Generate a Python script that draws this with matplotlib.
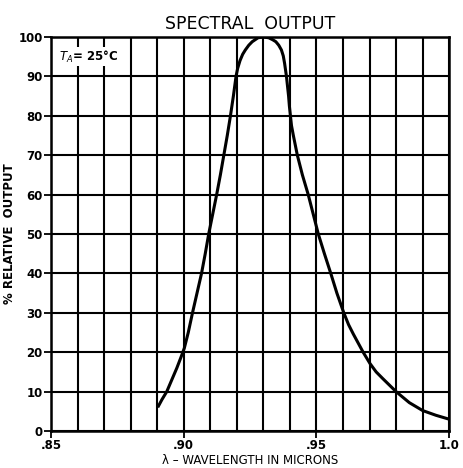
"""Spectral output curve - relative output vs wavelength."""

import numpy as np
import matplotlib
matplotlib.use("Agg")
import matplotlib.pyplot as plt

# wavelength in microns and % relative output
wavelength = [0.8902, 0.8918, 0.8936, 0.8955, 0.8974, 0.8990, 0.9002, 0.9017,
              0.9033, 0.9050, 0.9067, 0.9081, 0.9094, 0.9109, 0.9124, 0.9138,
              0.9151, 0.9164, 0.9176, 0.9187, 0.9197, 0.9203, 0.9212, 0.9222,
              0.9232, 0.9245, 0.9258, 0.9280, 0.9300, 0.9320, 0.9335, 0.9347,
              0.9358, 0.9368, 0.9375, 0.9380, 0.9387, 0.9391, 0.9395, 0.9398,
              0.9402, 0.9406, 0.9413, 0.9428, 0.9447, 0.9469, 0.9488, 0.9507,
              0.9530, 0.9554, 0.9577, 0.9603, 0.9621, 0.9639, 0.9676, 0.9702,
              0.9725, 0.9750, 0.9800, 0.9850, 0.9900, 0.9950, 1.0000]
rel_output = [6, 8, 10, 13, 16, 18.8, 21, 25,
              30, 35, 40, 45, 50, 55, 60, 65,
              70, 75, 80, 85, 90, 92, 94, 95.6,
              96.7, 97.9, 98.8, 99.8, 100, 99.8, 99.3, 98.8,
              97.9, 96.7, 95.2, 93.3, 90, 87.5, 85, 82.5,
              80, 77.5, 75, 70, 65, 60, 55, 50,
              45, 40, 35, 30, 27, 24.6, 20, 17.1,
              15.0, 13.3, 10, 7.2, 5.2, 4, 3]

x_major = [0.85, 0.90, 0.95, 1.0]
x_labels = [".85", ".90", ".95", "1.0"]
y_ticks = list(range(0, 101, 10))

fig = plt.figure(figsize=(4.64, 4.68), dpi=100)
ax = fig.add_axes([0.110, 0.079, 0.858, 0.842])

ax.plot(wavelength, rel_output, color="black", linewidth=2.2,
        solid_capstyle="butt", solid_joinstyle="round")

ax.set_xlim(0.85, 1.0)
ax.set_ylim(0, 100)
ax.set_xticks(x_major)
ax.set_xticklabels(x_labels, fontsize=8.5, fontweight="bold")
ax.set_xticks(np.arange(0.85, 1.0001, 0.01), minor=True)
ax.set_yticks(y_ticks)
ax.set_yticklabels([str(v) for v in y_ticks], fontsize=8.5, fontweight="bold")

ax.grid(True, which="both", color="black", linewidth=1.5)
ax.tick_params(axis="both", which="major", direction="out", length=5, width=1.3, pad=1)
ax.tick_params(axis="x", which="minor", length=0)
for s in ax.spines.values():
    s.set_linewidth(1.8)

ax.set_title("SPECTRAL  OUTPUT", fontsize=12.5, pad=6)
ax.set_xlabel("λ – WAVELENGTH IN MICRONS", fontsize=8.5, labelpad=1)
ax.set_ylabel("% RELATIVE  OUTPUT", fontsize=8.5, fontweight="bold", labelpad=2)

ax.text(0.853, 95, r"$T_A$= 25°C", fontsize=8.5, fontweight="bold",
        ha="left", va="center",
        bbox=dict(facecolor="white", edgecolor="none", pad=1))

fig.savefig("out.png", dpi=100)
